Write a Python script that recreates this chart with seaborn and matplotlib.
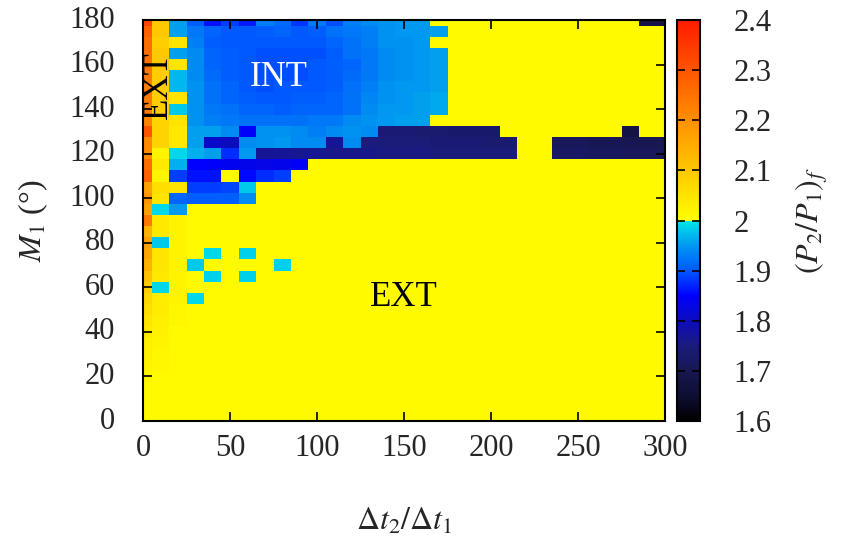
import matplotlib
matplotlib.use("Agg")
import matplotlib.pyplot as plt
import numpy as np
import pandas as pd
import seaborn as sns
from matplotlib.colors import LinearSegmentedColormap

# ---------------- data ----------------
dt_ratio = [0, 10, 20, 30, 40, 50, 60, 70, 80, 90, 100, 110, 120, 130, 140, 150,
            160, 170, 180, 190, 200, 210, 220, 230, 240, 250, 260, 270, 280, 290, 300]
m1_deg = [180, 175, 170, 165, 160, 155, 150, 145, 140, 135, 130, 125, 120, 115, 110,
          105, 100, 95, 90, 85, 80, 75, 70, 65, 60, 55, 50, 45, 40, 35, 30, 25, 20,
          15, 10, 5, 0]

p_ratio_rows = [
    [2.33, 2.10, 1.955, 1.905, 1.86, 1.885, 1.865, 1.93, 1.915, 1.88, 1.925, 1.895, 1.93, 1.94, 1.945, 1.95, 1.95, 2.01, 2.01, 2.01, 2.01, 2.01, 2.01, 2.01, 2.01, 2.01, 2.01, 2.01, 2.01, 1.68, 1.68],
    [2.28, 2.10, 1.955, 1.925, 1.91, 1.90, 1.90, 1.905, 1.91, 1.90, 1.905, 1.92, 1.925, 1.93, 1.945, 1.95, 1.95, 1.955, 2.01, 2.01, 2.01, 2.01, 2.01, 2.01, 2.01, 2.01, 2.01, 2.01, 2.01, 2.01, 2.01],
    [2.26, 2.09, 2.05, 1.93, 1.905, 1.90, 1.90, 1.90, 1.90, 1.90, 1.90, 1.91, 1.92, 1.93, 1.945, 1.945, 1.95, 2.01, 2.01, 2.01, 2.01, 2.01, 2.01, 2.01, 2.01, 2.01, 2.01, 2.01, 2.01, 2.01, 2.01],
    [2.26, 2.10, 1.955, 1.94, 1.91, 1.905, 1.90, 1.895, 1.895, 1.895, 1.895, 1.905, 1.92, 1.925, 1.94, 1.945, 1.95, 1.955, 2.01, 2.01, 2.01, 2.01, 2.01, 2.01, 2.01, 2.01, 2.01, 2.01, 2.01, 2.01, 2.01],
    [2.25, 2.10, 2.05, 1.94, 1.91, 1.905, 1.90, 1.895, 1.895, 1.895, 1.90, 1.905, 1.91, 1.925, 1.94, 1.945, 1.95, 1.955, 2.01, 2.01, 2.01, 2.01, 2.01, 2.01, 2.01, 2.01, 2.01, 2.01, 2.01, 2.01, 2.01],
    [2.24, 2.09, 1.97, 1.94, 1.915, 1.905, 1.90, 1.895, 1.895, 1.895, 1.90, 1.905, 1.915, 1.925, 1.94, 1.945, 1.95, 1.955, 2.01, 2.01, 2.01, 2.01, 2.01, 2.01, 2.01, 2.01, 2.01, 2.01, 2.01, 2.01, 2.01],
    [2.23, 2.09, 1.97, 1.945, 1.92, 1.91, 1.90, 1.895, 1.90, 1.90, 1.90, 1.905, 1.92, 1.93, 1.945, 1.95, 1.95, 1.955, 2.01, 2.01, 2.01, 2.01, 2.01, 2.01, 2.01, 2.01, 2.01, 2.01, 2.01, 2.01, 2.01],
    [2.24, 2.09, 2.05, 1.945, 1.92, 1.91, 1.905, 1.90, 1.90, 1.905, 1.905, 1.91, 1.92, 1.935, 1.945, 1.95, 1.955, 1.96, 2.01, 2.01, 2.01, 2.01, 2.01, 2.01, 2.01, 2.01, 2.01, 2.01, 2.01, 2.01, 2.01],
    [2.23, 2.09, 1.98, 1.945, 1.925, 1.92, 1.91, 1.91, 1.905, 1.91, 1.91, 1.91, 1.92, 1.94, 1.95, 1.95, 1.955, 1.96, 2.01, 2.01, 2.01, 2.01, 2.01, 2.01, 2.01, 2.01, 2.01, 2.01, 2.01, 2.01, 2.01],
    [2.22, 2.08, 2.05, 1.945, 1.93, 1.925, 1.92, 1.92, 1.92, 1.92, 1.925, 1.925, 1.94, 1.945, 1.95, 1.955, 1.955, 2.01, 2.01, 2.01, 2.01, 2.01, 2.01, 2.01, 2.01, 2.01, 2.01, 2.01, 2.01, 2.01, 2.01],
    [2.30, 2.08, 2.04, 1.955, 1.955, 1.94, 1.845, 1.945, 1.945, 1.94, 1.93, 1.94, 1.945, 1.94, 1.74, 1.74, 1.735, 1.735, 1.73, 1.73, 1.73, 2.01, 2.01, 2.01, 2.01, 2.01, 2.01, 2.01, 1.68, 2.01, 2.01],
    [2.21, 2.08, 2.04, 1.955, 1.81, 1.80, 1.94, 1.945, 1.95, 1.94, 1.94, 1.77, 1.94, 1.75, 1.75, 1.745, 1.745, 1.74, 1.74, 1.74, 1.735, 1.735, 2.01, 2.01, 1.71, 1.71, 1.705, 1.705, 1.70, 1.70, 1.70],
    [2.21, 2.02, 1.99, 1.965, 1.955, 1.875, 1.95, 1.77, 1.77, 1.765, 1.765, 1.76, 1.76, 1.76, 1.755, 1.755, 1.755, 1.75, 1.75, 1.75, 1.75, 1.75, 2.01, 2.01, 1.72, 1.72, 1.715, 1.715, 1.71, 1.71, 1.71],
    [2.26, 2.04, 1.965, 1.85, 1.845, 1.84, 1.835, 1.83, 1.835, 1.845, 2.01, 2.01, 2.01, 2.01, 2.01, 2.01, 2.01, 2.01, 2.01, 2.01, 2.01, 2.01, 2.01, 2.01, 2.01, 2.01, 2.01, 2.01, 2.01, 2.01, 2.01],
    [2.28, 2.02, 1.885, 1.86, 1.86, 2.01, 1.855, 1.875, 1.885, 2.01, 2.01, 2.01, 2.01, 2.01, 2.01, 2.01, 2.01, 2.01, 2.01, 2.01, 2.01, 2.01, 2.01, 2.01, 2.01, 2.01, 2.01, 2.01, 2.01, 2.01, 2.01],
    [2.17, 2.06, 2.05, 1.885, 1.885, 1.89, 1.98, 2.01, 2.01, 2.01, 2.01, 2.01, 2.01, 2.01, 2.01, 2.01, 2.01, 2.01, 2.01, 2.01, 2.01, 2.01, 2.01, 2.01, 2.01, 2.01, 2.01, 2.01, 2.01, 2.01, 2.01],
    [2.19, 2.05, 1.91, 1.905, 1.905, 1.905, 1.94, 2.01, 2.01, 2.01, 2.01, 2.01, 2.01, 2.01, 2.01, 2.01, 2.01, 2.01, 2.01, 2.01, 2.01, 2.01, 2.01, 2.01, 2.01, 2.01, 2.01, 2.01, 2.01, 2.01, 2.01],
    [2.17, 1.99, 1.95, 2.01, 2.01, 2.01, 2.01, 2.01, 2.01, 2.01, 2.01, 2.01, 2.01, 2.01, 2.01, 2.01, 2.01, 2.01, 2.01, 2.01, 2.01, 2.01, 2.01, 2.01, 2.01, 2.01, 2.01, 2.01, 2.01, 2.01, 2.01],
    [2.24, 2.04, 2.02, 2.01, 2.01, 2.01, 2.01, 2.01, 2.01, 2.01, 2.01, 2.01, 2.01, 2.01, 2.01, 2.01, 2.01, 2.01, 2.01, 2.01, 2.01, 2.01, 2.01, 2.01, 2.01, 2.01, 2.01, 2.01, 2.01, 2.01, 2.01],
    [2.14, 2.04, 2.02, 2.01, 2.01, 2.01, 2.01, 2.01, 2.01, 2.01, 2.01, 2.01, 2.01, 2.01, 2.01, 2.01, 2.01, 2.01, 2.01, 2.01, 2.01, 2.01, 2.01, 2.01, 2.01, 2.01, 2.01, 2.01, 2.01, 2.01, 2.01],
    [2.17, 1.98, 2.02, 2.01, 2.01, 2.01, 2.01, 2.01, 2.01, 2.01, 2.01, 2.01, 2.01, 2.01, 2.01, 2.01, 2.01, 2.01, 2.01, 2.01, 2.01, 2.01, 2.01, 2.01, 2.01, 2.01, 2.01, 2.01, 2.01, 2.01, 2.01],
    [2.16, 2.045, 2.02, 2.01, 1.99, 2.01, 1.985, 2.01, 2.01, 2.01, 2.01, 2.01, 2.01, 2.01, 2.01, 2.01, 2.01, 2.01, 2.01, 2.01, 2.01, 2.01, 2.01, 2.01, 2.01, 2.01, 2.01, 2.01, 2.01, 2.01, 2.01],
    [2.14, 2.045, 2.02, 1.98, 2.01, 2.01, 2.01, 2.01, 1.985, 2.01, 2.01, 2.01, 2.01, 2.01, 2.01, 2.01, 2.01, 2.01, 2.01, 2.01, 2.01, 2.01, 2.01, 2.01, 2.01, 2.01, 2.01, 2.01, 2.01, 2.01, 2.01],
    [2.11, 2.04, 2.02, 2.01, 1.985, 2.01, 1.985, 2.01, 2.01, 2.01, 2.01, 2.01, 2.01, 2.01, 2.01, 2.01, 2.01, 2.01, 2.01, 2.01, 2.01, 2.01, 2.01, 2.01, 2.01, 2.01, 2.01, 2.01, 2.01, 2.01, 2.01],
    [2.09, 1.99, 2.02, 2.01, 2.01, 2.01, 2.01, 2.01, 2.01, 2.01, 2.01, 2.01, 2.01, 2.01, 2.01, 2.01, 2.01, 2.01, 2.01, 2.01, 2.01, 2.01, 2.01, 2.01, 2.01, 2.01, 2.01, 2.01, 2.01, 2.01, 2.01],
    [2.07, 2.035, 2.02, 1.99, 2.01, 2.01, 2.01, 2.01, 2.01, 2.01, 2.01, 2.01, 2.01, 2.01, 2.01, 2.01, 2.01, 2.01, 2.01, 2.01, 2.01, 2.01, 2.01, 2.01, 2.01, 2.01, 2.01, 2.01, 2.01, 2.01, 2.01],
    [2.06, 2.035, 2.015, 2.01, 2.01, 2.01, 2.01, 2.01, 2.01, 2.01, 2.01, 2.01, 2.01, 2.01, 2.01, 2.01, 2.01, 2.01, 2.01, 2.01, 2.01, 2.01, 2.01, 2.01, 2.01, 2.01, 2.01, 2.01, 2.01, 2.01, 2.01],
    [2.05, 2.03, 2.015, 2.01, 2.01, 2.01, 2.01, 2.01, 2.01, 2.01, 2.01, 2.01, 2.01, 2.01, 2.01, 2.01, 2.01, 2.01, 2.01, 2.01, 2.01, 2.01, 2.01, 2.01, 2.01, 2.01, 2.01, 2.01, 2.01, 2.01, 2.01],
    [2.04, 2.025, 2.01, 2.01, 2.01, 2.01, 2.01, 2.01, 2.01, 2.01, 2.01, 2.01, 2.01, 2.01, 2.01, 2.01, 2.01, 2.01, 2.01, 2.01, 2.01, 2.01, 2.01, 2.01, 2.01, 2.01, 2.01, 2.01, 2.01, 2.01, 2.01],
    [2.03, 2.02, 2.01, 2.01, 2.01, 2.01, 2.01, 2.01, 2.01, 2.01, 2.01, 2.01, 2.01, 2.01, 2.01, 2.01, 2.01, 2.01, 2.01, 2.01, 2.01, 2.01, 2.01, 2.01, 2.01, 2.01, 2.01, 2.01, 2.01, 2.01, 2.01],
    [2.03, 2.015, 2.01, 2.01, 2.01, 2.01, 2.01, 2.01, 2.01, 2.01, 2.01, 2.01, 2.01, 2.01, 2.01, 2.01, 2.01, 2.01, 2.01, 2.01, 2.01, 2.01, 2.01, 2.01, 2.01, 2.01, 2.01, 2.01, 2.01, 2.01, 2.01],
    [2.02, 2.015, 2.01, 2.01, 2.01, 2.01, 2.01, 2.01, 2.01, 2.01, 2.01, 2.01, 2.01, 2.01, 2.01, 2.01, 2.01, 2.01, 2.01, 2.01, 2.01, 2.01, 2.01, 2.01, 2.01, 2.01, 2.01, 2.01, 2.01, 2.01, 2.01],
    [2.02, 2.01, 2.01, 2.01, 2.01, 2.01, 2.01, 2.01, 2.01, 2.01, 2.01, 2.01, 2.01, 2.01, 2.01, 2.01, 2.01, 2.01, 2.01, 2.01, 2.01, 2.01, 2.01, 2.01, 2.01, 2.01, 2.01, 2.01, 2.01, 2.01, 2.01],
    [2.01, 2.01, 2.01, 2.01, 2.01, 2.01, 2.01, 2.01, 2.01, 2.01, 2.01, 2.01, 2.01, 2.01, 2.01, 2.01, 2.01, 2.01, 2.01, 2.01, 2.01, 2.01, 2.01, 2.01, 2.01, 2.01, 2.01, 2.01, 2.01, 2.01, 2.01],
    [2.01, 2.01, 2.01, 2.01, 2.01, 2.01, 2.01, 2.01, 2.01, 2.01, 2.01, 2.01, 2.01, 2.01, 2.01, 2.01, 2.01, 2.01, 2.01, 2.01, 2.01, 2.01, 2.01, 2.01, 2.01, 2.01, 2.01, 2.01, 2.01, 2.01, 2.01],
    [2.01, 2.01, 2.01, 2.01, 2.01, 2.01, 2.01, 2.01, 2.01, 2.01, 2.01, 2.01, 2.01, 2.01, 2.01, 2.01, 2.01, 2.01, 2.01, 2.01, 2.01, 2.01, 2.01, 2.01, 2.01, 2.01, 2.01, 2.01, 2.01, 2.01, 2.01],
    [2.01, 2.01, 2.01, 2.01, 2.01, 2.01, 2.01, 2.01, 2.01, 2.01, 2.01, 2.01, 2.01, 2.01, 2.01, 2.01, 2.01, 2.01, 2.01, 2.01, 2.01, 2.01, 2.01, 2.01, 2.01, 2.01, 2.01, 2.01, 2.01, 2.01, 2.01],
]

x_ticks = [0, 50, 100, 150, 200, 250, 300]
y_ticks = [0, 20, 40, 60, 80, 100, 120, 140, 160, 180]
cbar_ticks = [1.6, 1.7, 1.8, 1.9, 2.0, 2.1, 2.2, 2.3, 2.4]
cbar_tick_labels = ["1.6", "1.7", "1.8", "1.9", "2", "2.1", "2.2", "2.3", "2.4"]

# ---------------- style ----------------
sns.set_theme(style="white")
plt.rcParams['font.family'] = ['Liberation Serif', 'DejaVu Serif']
plt.rcParams['mathtext.fontset'] = 'stix'

cmap = LinearSegmentedColormap.from_list("p2p1", [
    (0.0, '#000000'), (0.0625, '#0e0e32'), (0.125, '#171752'), (0.1875, '#1b1b7c'),
    (0.25, '#0c0cbe'), (0.3125, '#0000ff'), (0.375, '#0058ff'), (0.4375, '#0098f0'),
    (0.4999, '#00e8e8'), (0.5, '#ffff00'), (0.625, '#ffc800'), (0.75, '#ff9000'),
    (0.875, '#ff5500'), (1.0, '#ff1a00')], N=2048)

W, H = 843, 540
fig = plt.figure(figsize=(W / 100, H / 100), dpi=100)
ax = fig.add_axes([143 / W, 1 - 421 / H, (665 - 143) / W, (421 - 20) / H])
cax = fig.add_axes([677 / W, 1 - 421 / H, (700 - 677) / W, (421 - 20) / H])

df = pd.DataFrame(p_ratio_rows, index=m1_deg, columns=dt_ratio)
sns.heatmap(df, ax=ax, cbar_ax=cax, cmap=cmap, vmin=1.6, vmax=2.4,
            cbar_kws={'ticks': cbar_ticks})

# cells are centred on the data values, the outer half-cells are clipped
ax.set_xlim(0.5, len(dt_ratio) - 0.5)
ax.set_ylim(len(m1_deg) - 0.5, 0.5)
ax.set_axisbelow(False)
cax.set_axisbelow(False)

ax.set_xticks([dt_ratio.index(v) + 0.5 for v in x_ticks])
ax.set_xticklabels([str(v) for v in x_ticks], rotation=0)
ax.set_yticks([m1_deg.index(v) + 0.5 for v in y_ticks])
ax.set_yticklabels([str(v) for v in y_ticks], rotation=0)

ax.tick_params(axis='both', direction='in', length=6.5, width=1.2, color='black',
               top=True, right=True, bottom=True, left=True, labelsize=22)
ax.tick_params(axis='x', pad=9)
ax.tick_params(axis='y', pad=20)
for s in ax.spines.values():
    s.set_visible(True)
    s.set_color('black')
    s.set_linewidth(1.5)

ax.set_xlabel(r"$\Delta t_2/\Delta t_1$", fontsize=23, labelpad=32)
ax.set_ylabel(r"$M_1$ (°)", fontsize=23, labelpad=14)

ax.text(dt_ratio.index(70) + 1.28, m1_deg.index(155) + 0.7, "INT", color='white',
        fontsize=25, ha='center', va='center')
ax.text(dt_ratio.index(150) + 0.5, m1_deg.index(55) + 0.4, "EXT", color='black',
        fontsize=25, ha='center', va='center')
ax.text(dt_ratio.index(10) + 0.36, m1_deg.index(150) + 0.34, "EXT", color='black',
        fontsize=25, ha='center', va='center', rotation=90)

cbar = ax.collections[0].colorbar
cbar.outline.set_visible(True)
cbar.outline.set_linewidth(1.5)
cbar.outline.set_edgecolor('black')
cbar.set_ticks(cbar_ticks)
cbar.set_ticklabels(cbar_tick_labels)
cax.tick_params(direction='in', length=6, width=1.2, color='black', left=True,
                right=True, labelsize=22, pad=24)
cbar.set_label(r"$(P_2/P_1)_f$", fontsize=23, labelpad=16)

fig.savefig("out.png", dpi=100)
